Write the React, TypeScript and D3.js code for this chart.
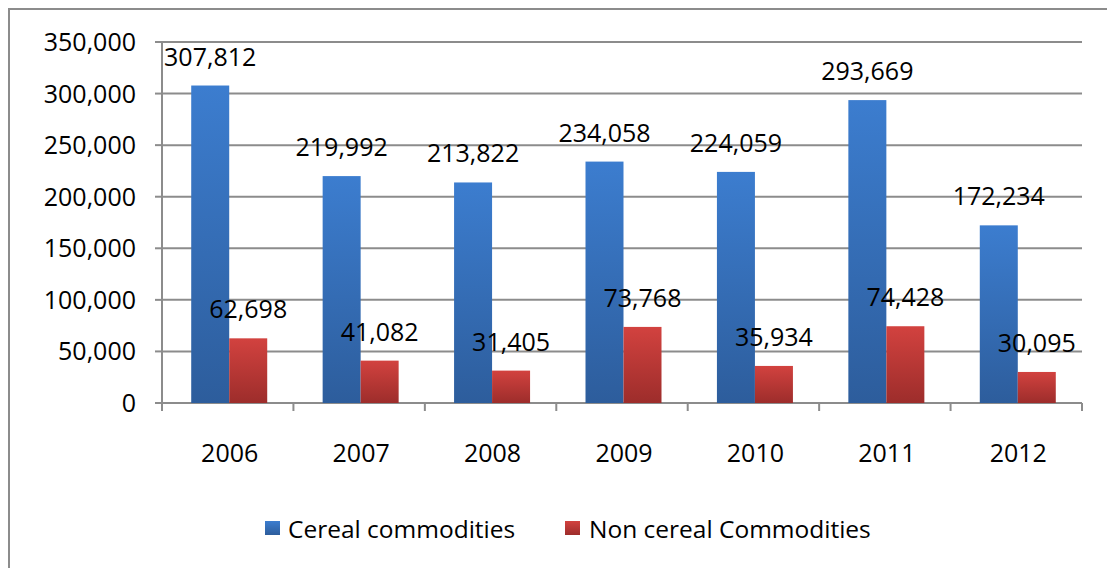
import React from "react";
import * as d3 from "d3";

const years = ["2006", "2007", "2008", "2009", "2010", "2011", "2012"];
const cereal = [307812, 219992, 213822, 234058, 224059, 293669, 172234];
const nonCereal = [62698, 41082, 31405, 73768, 35934, 74428, 30095];
const yTicks = [0, 50000, 100000, 150000, 200000, 250000, 300000, 350000];
const seriesNames = ["Cereal commodities", "Non cereal Commodities"];

const W = 1107;
const H = 568;
const plotLeft = 162;
const plotRight = 1082;
const plotTop = 42;
const plotBottom = 403;
const FONT = "'Open Sans', 'Liberation Sans', sans-serif";
const GRID = "#8c8c8c";

export default function App() {
  const x0 = d3.scaleBand<string>().domain(years).range([plotLeft, plotRight]).paddingInner(0).paddingOuter(0);
  const barW = 38;
  const shift = 1.5;
  const y = d3.scaleLinear().domain([0, 350000]).range([plotBottom, plotTop]);
  const fmt = d3.format(",");
  const series = [cereal, nonCereal];
  const fills = ["url(#gBlue)", "url(#gRed)"];

  return (
    <svg
      width={W}
      height={H}
      style={{ position: "absolute", left: 0, top: 0, display: "block", background: "#fff" }}
    >
      <defs>
        <linearGradient id="gBlue" x1="0" y1="0" x2="0" y2="1">
          <stop offset="0" stopColor="#3c7dcf" />
          <stop offset="1" stopColor="#2d5d9c" />
        </linearGradient>
        <linearGradient id="gRed" x1="0" y1="0" x2="0" y2="1">
          <stop offset="0" stopColor="#d2423f" />
          <stop offset="1" stopColor="#9d2d2b" />
        </linearGradient>
      </defs>
      {/* outer chart border */}
      <rect x={9} y={9} width={W + 20} height={H + 20} fill="#fff" stroke={GRID} strokeWidth={2} />

      {/* gridlines */}
      {yTicks.map((t) => (
        <line key={"g" + t} x1={plotLeft} x2={plotRight} y1={y(t)} y2={y(t)} stroke={GRID} strokeWidth={2} />
      ))}
      {/* y axis */}
      <line x1={plotLeft} x2={plotLeft} y1={plotTop} y2={plotBottom + 8} stroke={GRID} strokeWidth={2} />
      {yTicks.map((t) => (
        <line key={"yt" + t} x1={plotLeft - 7} x2={plotLeft} y1={y(t)} y2={y(t)} stroke={GRID} strokeWidth={2} />
      ))}
      {yTicks.map((t) => (
        <text
          key={"yl" + t}
          x={136}
          y={y(t) + 9}
          textAnchor="end"
          fontFamily={FONT}
          fontSize={25}
          fill="#000"
        >
          {fmt(t)}
        </text>
      ))}
      {/* x axis ticks */}
      {years.map((yr) => (
        <line
          key={"xt" + yr}
          x1={(x0(yr) as number) + x0.bandwidth()}
          x2={(x0(yr) as number) + x0.bandwidth()}
          y1={plotBottom}
          y2={plotBottom + 8}
          stroke={GRID}
          strokeWidth={2}
        />
      ))}

      {/* bars */}
      {series.map((vals, si) =>
        vals.map((v, i) => {
          const bx = (x0(years[i]) as number) + x0.bandwidth() / 2 - barW + si * barW + shift;
          return (
            <rect
              key={"b" + si + "-" + i}
              x={bx}
              y={y(v)}
              width={barW}
              height={plotBottom - y(v)}
              fill={fills[si]}
            />
          );
        })
      )}

      {/* data labels */}
      {series.map((vals, si) =>
        vals.map((v, i) => {
          const cx = (x0(years[i]) as number) + x0.bandwidth() / 2 - barW + si * barW + barW / 2 + shift;
          return (
            <text
              key={"dl" + si + "-" + i}
              x={cx}
              y={y(v) - 20}
              textAnchor="middle"
              fontFamily={FONT}
              fontSize={25}
              fill="#000"
            >
              {fmt(v)}
            </text>
          );
        })
      )}

      {/* category labels */}
      {years.map((yr) => (
        <text
          key={"xl" + yr}
          x={(x0(yr) as number) + x0.bandwidth() / 2 + 2}
          y={462}
          textAnchor="middle"
          fontFamily={FONT}
          fontSize={25}
          fill="#000"
        >
          {yr}
        </text>
      ))}

      {/* legend */}
      <rect x={265} y={521} width={15} height={14} fill="url(#gBlue)" />
      <text x={288} y={538} fontFamily={FONT} fontSize={24.5} fill="#000">
        {seriesNames[0]}
      </text>
      <rect x={565} y={521} width={15} height={14} fill="url(#gRed)" />
      <text x={589} y={538} fontFamily={FONT} fontSize={24.5} fill="#000">
        {seriesNames[1]}
      </text>
    </svg>
  );
}
